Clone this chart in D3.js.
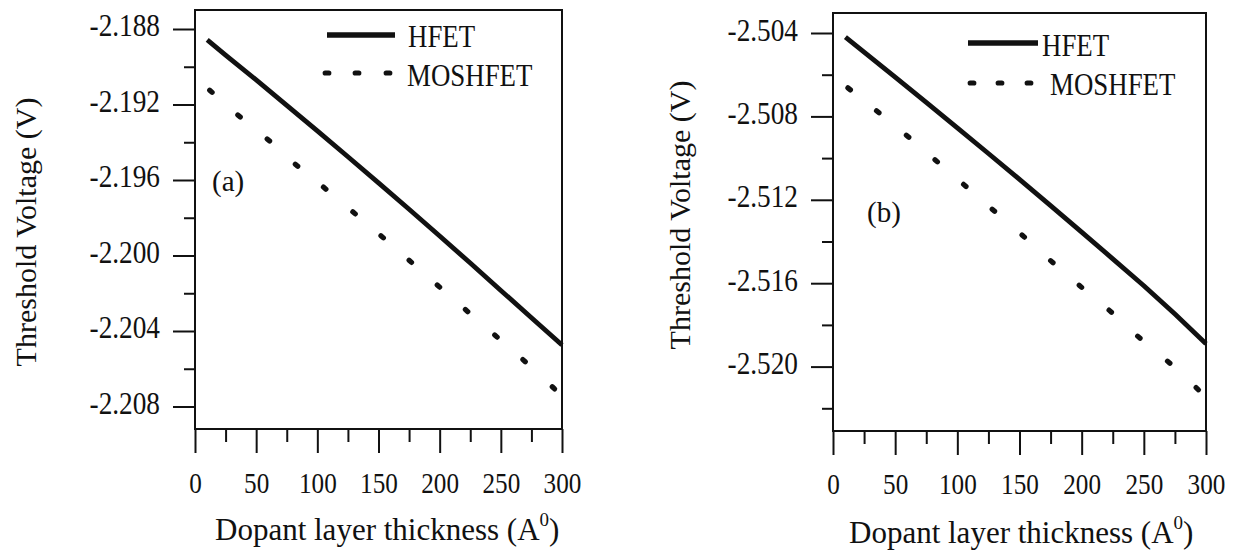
<!DOCTYPE html>
<html>
<head>
<meta charset="utf-8">
<script src="https://cdn.jsdelivr.net/npm/d3@7"></script>
<style>
  html, body { margin: 0; padding: 0; background: #fff; }
  svg { display: block; }
</style>
</head>
<body>
<svg id="chart" width="1240" height="556"></svg>
<script>
// ---------------- DATA ----------------
const thickness = [10, 25, 50, 75, 100, 125, 150, 175, 200, 225, 250, 275, 300];

// Panel (a)
const hfetA = [-2.18858, -2.18938, -2.19070, -2.19205, -2.19340, -2.19477, -2.19615, -2.19755, -2.19897, -2.20040, -2.20185, -2.20330, -2.20474];
const moshfetXA = [13, 36, 60, 83, 106, 130, 153, 176, 199, 222, 246, 269, 293];
const moshfetA = [-2.19130, -2.19261, -2.19388, -2.19522, -2.19643, -2.19774, -2.19901, -2.20031, -2.20162, -2.20292, -2.20427, -2.20557, -2.20701];
const yTicksA = [-2.188, -2.192, -2.196, -2.200, -2.204, -2.208];
const yMinorA = [-2.190, -2.194, -2.198, -2.202, -2.206];

// Panel (b)
const hfetB = [-2.50420, -2.50492, -2.50612, -2.50733, -2.50855, -2.50978, -2.51102, -2.51228, -2.51355, -2.51483, -2.51612, -2.51748, -2.51890];
const moshfetXB = [13, 36, 60, 83, 106, 129, 153, 176, 199, 223, 246, 270, 293];
const moshfetB = [-2.50668, -2.50778, -2.50895, -2.51013, -2.51131, -2.51250, -2.51374, -2.51497, -2.51615, -2.51734, -2.51859, -2.51979, -2.52106];
const yTicksB = [-2.504, -2.508, -2.512, -2.516, -2.520];
const yMinorB = [-2.506, -2.510, -2.514, -2.518, -2.522];

const xTicks = [0, 50, 100, 150, 200, 250, 300];
const xMinor = [25, 75, 125, 175, 225, 275];

const seriesNames = ["HFET", "MOSHFET"];
const panelLabels = ["(a)", "(b)"];
const yTitle = "Threshold Voltage (V)";
const xTitle = "Dopant layer thickness (A";

// ---------------- LAYOUT ----------------
const FONT = "'Liberation Serif', 'Times New Roman', Times, 'DejaVu Serif', serif";
const panels = [
  {
    hfet: hfetA, mosX: moshfetXA, mos: moshfetA, yTicks: yTicksA, yMinor: yMinorA, label: panelLabels[0],
    xRange: [195, 562], yDomain: [-2.208, -2.188], yRange: [406.5, 29], frame: {t: 10, b: 429},
    tickBase: 6.5, xLabBase: 64,
    labelPos: [212, 191], yTitlePos: [36, 232], xTitlePos: [215, 540],
    leg: {lx0: 327, lx1: 395, ly: 35, dots: [327, 357, 388], dy: 73, t1: [408, 47], t2: [407, 86]}
  },
  {
    hfet: hfetB, mosX: moshfetXB, mos: moshfetB, yTicks: yTicksB, yMinor: yMinorB, label: panelLabels[1],
    xRange: [833, 1206], yDomain: [-2.520, -2.504], yRange: [366.6, 33], frame: {t: 13, b: 431},
    tickBase: 7, xLabBase: 63,
    labelPos: [867, 222], yTitlePos: [690, 215], xTitlePos: [849, 543],
    leg: {lx0: 968, lx1: 1038, ly: 43, dots: [972, 1000, 1029], dy: 83, t1: [1042, 56], t2: [1050, 95]}
  }
];

const svg = d3.select("#chart").attr("font-family", FONT);
const ink = "#111";

panels.forEach(p => {
  const x = d3.scaleLinear().domain([0, 300]).range(p.xRange);
  const y = d3.scaleLinear().domain(p.yDomain).range(p.yRange);
  const g = svg.append("g");
  const left = p.xRange[0], right = p.xRange[1];

  // frame
  g.append("rect")
    .attr("x", left).attr("y", p.frame.t)
    .attr("width", right - left).attr("height", p.frame.b - p.frame.t)
    .attr("fill", "none").attr("stroke", ink).attr("stroke-width", 2);

  // y axis major
  const yAx = g.append("g").attr("transform", `translate(${left},0)`)
    .call(d3.axisLeft(y).tickValues(p.yTicks).tickSize(22).tickFormat(d => d.toFixed(3)));
  yAx.attr("font-family", FONT).attr("font-size", null);
  yAx.select(".domain").remove();
  yAx.selectAll("line").attr("stroke", ink).attr("stroke-width", 2);
  yAx.selectAll("text")
    .attr("x", 0).attr("y", 0).attr("dy", null)
    .attr("text-anchor", "end")
    .attr("font-size", 31)
    .attr("font-family", FONT)
    .attr("transform", `translate(-35,${p.tickBase}) scale(0.88,1)`)
    .attr("fill", ink);
  // y axis minor
  const yMin = g.append("g").attr("transform", `translate(${left},0)`)
    .call(d3.axisLeft(y).tickValues(p.yMinor).tickSize(11).tickFormat(""));
  yMin.select(".domain").remove();
  yMin.selectAll("line").attr("stroke", ink).attr("stroke-width", 2);

  // x axis major
  const xAx = g.append("g").attr("transform", `translate(0,${p.frame.b})`)
    .call(d3.axisBottom(x).tickValues(xTicks).tickSize(24).tickFormat(d3.format("d")));
  xAx.attr("font-family", FONT).attr("font-size", null);
  xAx.select(".domain").remove();
  xAx.selectAll("line").attr("stroke", ink).attr("stroke-width", 2);
  xAx.selectAll("text")
    .attr("x", 0).attr("y", 0).attr("dy", null)
    .attr("text-anchor", "middle")
    .attr("font-size", 30)
    .attr("font-family", FONT)
    .attr("transform", `translate(0,${p.xLabBase}) scale(0.84,1)`)
    .attr("fill", ink);
  const xMin = g.append("g").attr("transform", `translate(0,${p.frame.b})`)
    .call(d3.axisBottom(x).tickValues(xMinor).tickSize(13).tickFormat(""));
  xMin.select(".domain").remove();
  xMin.selectAll("line").attr("stroke", ink).attr("stroke-width", 2);

  // HFET line
  const line = d3.line().x((d, i) => x(thickness[i])).y(d => y(d));
  g.append("path").datum(p.hfet)
    .attr("d", line)
    .attr("fill", "none").attr("stroke", ink).attr("stroke-width", 4.8)
    .attr("stroke-linejoin", "round").attr("stroke-linecap", "butt");

  // MOSHFET dots (short elongated marks along the trend)
  const pts = p.mos.map((v, i) => [x(p.mosX[i]), y(v)]);
  pts.forEach((pt, i) => {
    const a = pts[Math.max(0, i - 1)], b = pts[Math.min(pts.length - 1, i + 1)];
    const ang = Math.atan2(b[1] - a[1], b[0] - a[0]) * 180 / Math.PI;
    g.append("line")
      .attr("x1", -1.6).attr("x2", 1.6).attr("y1", 0).attr("y2", 0)
      .attr("transform", `translate(${pt[0]},${pt[1]}) rotate(${ang})`)
      .attr("stroke", ink).attr("stroke-width", 5.2).attr("stroke-linecap", "round");
  });

  // legend
  const L = p.leg;
  g.append("line").attr("x1", L.lx0).attr("x2", L.lx1).attr("y1", L.ly).attr("y2", L.ly)
    .attr("stroke", ink).attr("stroke-width", 5.5);
  L.dots.forEach(dx => {
    g.append("line").attr("x1", dx - 1.8).attr("x2", dx + 1.8).attr("y1", L.dy).attr("y2", L.dy)
      .attr("stroke", ink).attr("stroke-width", 5.2).attr("stroke-linecap", "round");
  });
  g.append("text").attr("transform", `translate(${L.t1[0]},${L.t1[1]}) scale(0.84,1)`)
    .attr("font-family", FONT).attr("fill", ink).attr("font-size", 32).text(seriesNames[0]);
  g.append("text").attr("transform", `translate(${L.t2[0]},${L.t2[1]}) scale(0.84,1)`)
    .attr("font-family", FONT).attr("fill", ink).attr("font-size", 32).text(seriesNames[1]);

  // panel label
  g.append("text").attr("x", p.labelPos[0]).attr("y", p.labelPos[1])
    .attr("font-family", FONT).attr("fill", ink).attr("font-size", 29).text(p.label);

  // y title
  g.append("text")
    .attr("transform", `translate(${p.yTitlePos[0]},${p.yTitlePos[1]}) rotate(-90)`)
    .attr("font-family", FONT).attr("fill", ink)
    .attr("text-anchor", "middle").attr("font-size", 30).text(yTitle);

  // x title with superscript 0
  const xt = g.append("text").attr("x", p.xTitlePos[0]).attr("y", p.xTitlePos[1])
    .attr("font-family", FONT).attr("fill", ink).attr("font-size", 31);
  xt.append("tspan").text(xTitle);
  xt.append("tspan").attr("dy", -14).attr("font-size", 19).text("0");
  xt.append("tspan").attr("dy", 14).text(")");
});
</script>
</body>
</html>
